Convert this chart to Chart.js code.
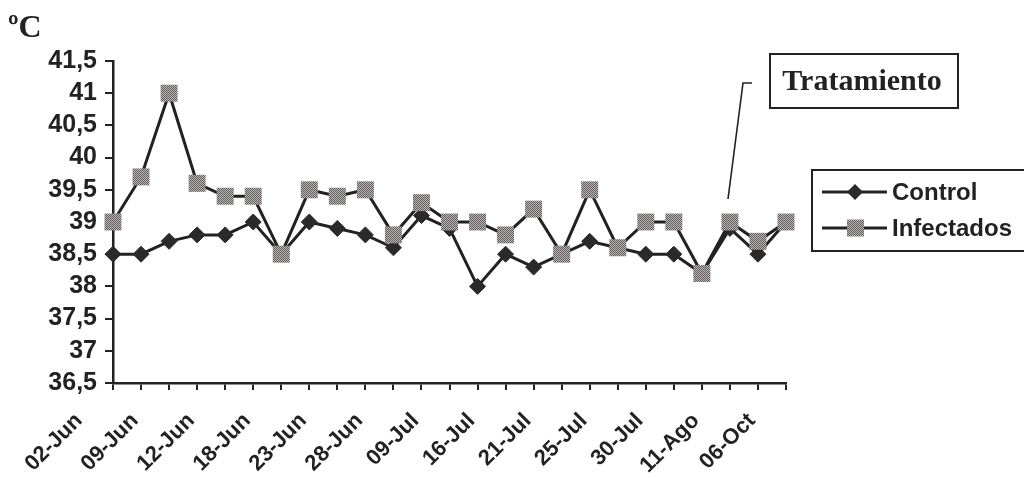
<!DOCTYPE html>
<html>
<head>
<meta charset="utf-8">
<script src="https://cdn.jsdelivr.net/npm/chart.js@4.4.1/dist/chart.umd.min.js"></script>
<style>
  html, body { margin: 0; padding: 0; background: #ffffff; }
  #wrap { width: 1024px; height: 478px; position: relative; }
</style>
</head>
<body>
<div id="wrap"><canvas id="c"></canvas></div>
<script>
// ---- data ----
const categories = [
  '02-Jun', '', '09-Jun', '', '12-Jun', '', '18-Jun', '', '23-Jun', '', '28-Jun', '', '09-Jul',
  '', '16-Jul', '', '21-Jul', '', '25-Jul', '', '30-Jul', '', '11-Ago', '', '06-Oct'
];
const controlValues = [38.5, 38.5, 38.7, 38.8, 38.8, 39.0, 38.5, 39.0, 38.9, 38.8, 38.6, 39.1, 38.9,
                       38.0, 38.5, 38.3, 38.5, 38.7, 38.6, 38.5, 38.5, 38.2, 38.9, 38.5, 39.0];
const infectadosValues = [39.0, 39.7, 41.0, 39.6, 39.4, 39.4, 38.5, 39.5, 39.4, 39.5, 38.8, 39.3, 39.0,
                          39.0, 38.8, 39.2, 38.5, 39.5, 38.6, 39.0, 39.0, 38.2, 39.0, 38.7, 39.0];
const seriesNames = ['Control', 'Infectados'];
const yTickValues = [36.5, 37, 37.5, 38, 38.5, 39, 39.5, 40, 40.5, 41, 41.5];
const unitLabel = 'ºC';
const annotationText = 'Tratamiento';

// ---- styles ----
const INK = '#222222';
const DIAMOND = '#2b2929';
function makePattern() {
  const p = document.createElement('canvas');
  p.width = 2; p.height = 2;
  const g = p.getContext('2d');
  g.fillStyle = '#bdb7b7'; g.fillRect(0, 0, 2, 2);
  g.fillStyle = '#625d5d'; g.fillRect(0, 0, 1, 1); g.fillRect(1, 1, 1, 1);
  return g.createPattern(p, 'repeat');
}
const squareFill = makePattern();

const decorPlugin = {
  id: 'decor',
  afterDraw(chart) {
    const ctx = chart.ctx;
    ctx.save();
    // unit label
    ctx.fillStyle = INK;
    ctx.font = 'bold 32px "Liberation Serif", "Times New Roman", serif';
    ctx.textAlign = 'left';
    ctx.textBaseline = 'alphabetic';
    ctx.fillText(unitLabel, 8, 37);

    // annotation box
    ctx.strokeStyle = INK;
    ctx.lineWidth = 2;
    ctx.strokeRect(770, 54, 188, 54);
    ctx.font = 'bold 30px "Liberation Serif", "Times New Roman", serif';
    ctx.textAlign = 'center';
    ctx.textBaseline = 'middle';
    ctx.fillText(annotationText, 862, 82);
    // leader line
    ctx.lineWidth = 1.6;
    ctx.beginPath();
    ctx.moveTo(752, 83);
    ctx.lineTo(743, 83);
    ctx.lineTo(728, 199);
    ctx.stroke();

    // legend box
    ctx.lineWidth = 2;
    ctx.strokeRect(812, 170, 220, 81);
    const rows = [192, 228];
    ctx.font = 'bold 24px "Liberation Sans", Arial, sans-serif';
    ctx.textAlign = 'left';
    ctx.textBaseline = 'middle';
    rows.forEach((yy, i) => {
      ctx.strokeStyle = INK;
      ctx.lineWidth = 3;
      ctx.beginPath();
      ctx.moveTo(822, yy);
      ctx.lineTo(887, yy);
      ctx.stroke();
      if (i === 0) {
        ctx.fillStyle = DIAMOND;
        ctx.beginPath();
        ctx.moveTo(855, yy - 8); ctx.lineTo(863, yy); ctx.lineTo(855, yy + 8); ctx.lineTo(847, yy);
        ctx.closePath(); ctx.fill();
      } else {
        ctx.fillStyle = squareFill;
        ctx.fillRect(847, yy - 8.5, 17, 17);
      }
      ctx.fillStyle = INK;
      ctx.fillText(seriesNames[i], 892, yy + 1);
    });
    ctx.restore();
  }
};

new Chart(document.getElementById('c'), {
  type: 'line',
  data: {
    labels: categories,
    datasets: [
      {
        label: seriesNames[0],
        data: controlValues,
        borderColor: INK,
        borderWidth: 3,
        pointStyle: 'rectRot',
        pointRadius: 8,
        pointBackgroundColor: DIAMOND,
        pointBorderColor: DIAMOND,
        pointBorderWidth: 1,
        tension: 0,
        order: 1
      },
      {
        label: seriesNames[1],
        data: infectadosValues,
        borderColor: INK,
        borderWidth: 3,
        pointStyle: 'rect',
        pointRadius: 12,
        pointBackgroundColor: squareFill,
        pointBorderWidth: 0,
        tension: 0,
        order: 0
      }
    ]
  },
  options: {
    responsive: true,
    maintainAspectRatio: false,
    animation: false,
    layout: { padding: { left: 0, top: 61, right: 238, bottom: 0 } },
    plugins: { legend: { display: false }, tooltip: { enabled: false }, title: { display: false } },
    scales: {
      x: {
        offset: false,
        afterFit(scale) { scale.height = 95; },
        grid: { display: true, drawOnChartArea: false, drawTicks: true, tickLength: 7, color: INK, lineWidth: 2 },
        border: { display: true, color: INK, width: 2.5 },
        ticks: {
          autoSkip: false,
          maxRotation: 45,
          minRotation: 45,
          padding: 18,
          labelOffset: -34,
          color: INK,
          font: { family: '"Liberation Sans", Arial, sans-serif', size: 22, weight: 'bold' },
          callback(v, i) { return categories[i]; }
        }
      },
      y: {
        min: 36.5,
        max: 41.5,
        afterFit(scale) { scale.width = 113; },
        afterBuildTicks(scale) { scale.ticks = yTickValues.map(v => ({ value: v })); },
        grid: { display: true, drawOnChartArea: false, drawTicks: true, tickLength: 8, color: INK, lineWidth: 2 },
        border: { display: true, color: INK, width: 2.5 },
        ticks: {
          autoSkip: false,
          padding: 8,
          color: INK,
          font: { family: '"Liberation Sans", Arial, sans-serif', size: 25, weight: 'bold' },
          callback(v) { return String(v).replace('.', ','); }
        }
      }
    }
  },
  plugins: [decorPlugin]
});
</script>
</body>
</html>
